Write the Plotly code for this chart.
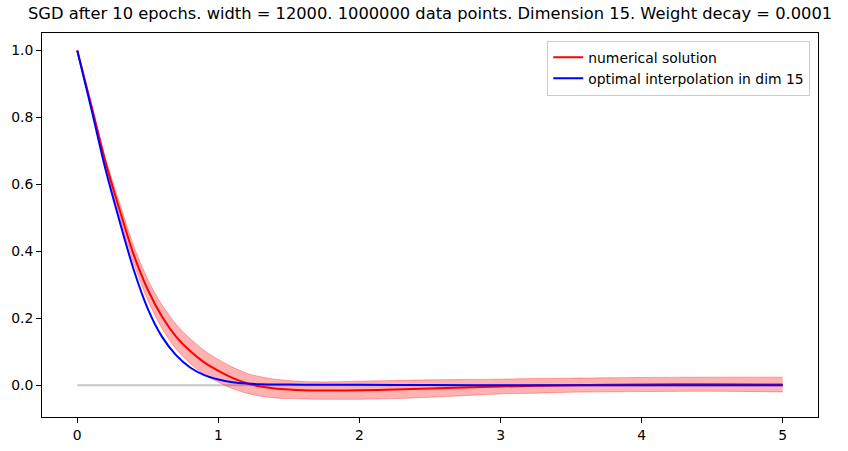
import plotly.graph_objects as go

# --- data ---
x_num = [0.0, 0.1, 0.2, 0.3, 0.4, 0.5, 0.6, 0.7, 0.8, 0.9, 1.0, 1.1, 1.2, 1.3, 1.4,
         1.5, 1.6, 1.7, 1.8, 2.0, 2.25, 2.5, 2.75, 3.0, 3.25, 3.5, 4.0, 4.5, 5.0]
y_num = [1.0, 0.835, 0.667, 0.524, 0.39, 0.285, 0.205, 0.145, 0.102, 0.068, 0.043,
         0.022, 0.006, -0.004, -0.010, -0.013, -0.015, -0.016, -0.016, -0.015,
         -0.013, -0.010, -0.007, -0.004, -0.002, 0.0, 0.002, 0.003, 0.002]
y_upper = [1.0, 0.84, 0.679, 0.544, 0.416, 0.316, 0.24, 0.182, 0.139, 0.104, 0.077,
           0.054, 0.036, 0.025, 0.018, 0.014, 0.011, 0.010, 0.010, 0.012, 0.014,
           0.016, 0.017, 0.018, 0.020, 0.021, 0.023, 0.024, 0.024]
y_lower = [1.0, 0.83, 0.655, 0.504, 0.364, 0.254, 0.17, 0.108, 0.065, 0.032, 0.009,
           -0.010, -0.024, -0.033, -0.038, -0.040, -0.041, -0.042, -0.042, -0.042,
           -0.040, -0.036, -0.031, -0.026, -0.024, -0.021, -0.019, -0.018, -0.020]

x_opt = [0.0, 0.1, 0.2, 0.3, 0.4, 0.5, 0.6, 0.7, 0.8, 0.9, 1.0, 1.1, 1.2, 1.3, 1.5,
         1.7, 2.0, 2.5, 3.0, 4.0, 5.0]
y_opt = [1.0, 0.825, 0.645, 0.49, 0.345, 0.228, 0.145, 0.09, 0.053, 0.03, 0.017,
         0.009, 0.005, 0.003, 0.002, 0.001, 0.001, 0.0005, 0.0, 0.0, 0.0]

x_zero = [0.0, 5.0]
y_zero = [0.0, 0.0]

title = "SGD after 10 epochs. width = 12000. 1000000 data points. Dimension 15. Weight decay = 0.0001"
x_ticks = [0, 1, 2, 3, 4, 5]
y_ticks = [0.0, 0.2, 0.4, 0.6, 0.8, 1.0]

FONT = "DejaVu Sans"

fig = go.Figure()
fig.add_trace(go.Scatter(x=x_zero, y=y_zero, mode="lines",
                         line=dict(color="rgba(160,160,160,0.6)", width=2),
                         showlegend=False, hoverinfo="skip"))
fig.add_trace(go.Scatter(x=x_num, y=y_lower, mode="lines",
                         line=dict(color="rgba(255,0,0,0.3)", width=1, shape="spline", smoothing=0.8),
                         showlegend=False, hoverinfo="skip"))
fig.add_trace(go.Scatter(x=x_num, y=y_upper, mode="lines", fill="tonexty",
                         fillcolor="rgba(255,0,0,0.3)",
                         line=dict(color="rgba(255,0,0,0.3)", width=1, shape="spline", smoothing=0.8),
                         showlegend=False, hoverinfo="skip"))
fig.add_trace(go.Scatter(x=x_num, y=y_num, mode="lines", name="numerical solution",
                         line=dict(color="red", width=2, shape="spline", smoothing=0.8)))
fig.add_trace(go.Scatter(x=x_opt, y=y_opt, mode="lines", name="optimal interpolation in dim 15",
                         line=dict(color="blue", width=2, shape="spline", smoothing=0.8)))

axis_common = dict(showline=True, linecolor="black", linewidth=1, mirror=True,
                   ticks="outside", ticklen=5, tickwidth=1, tickcolor="black",
                   showgrid=False, zeroline=False, automargin=False,
                   tickfont=dict(family=FONT, size=13.9, color="black"))

fig.update_layout(
    width=848, height=451,
    margin=dict(l=42, r=30, t=33, b=34, autoexpand=False),
    paper_bgcolor="white", plot_bgcolor="white",
    font=dict(family=FONT, color="black"),
    xaxis=dict(range=[-0.25, 5.25], tickvals=x_ticks, ticktext=[str(v) for v in x_ticks],
               **axis_common),
    yaxis=dict(range=[-0.095, 1.052], tickvals=y_ticks, ticktext=[f"{v:.1f}" for v in y_ticks],
               **axis_common),
    legend=dict(x=0.99, y=0.98, xanchor="right", yanchor="top", traceorder="normal",
                bgcolor="rgba(255,255,255,0.8)", bordercolor="#cccccc", borderwidth=1,
                font=dict(family=FONT, size=13.9, color="black"),
                tracegroupgap=0, itemwidth=30),
    annotations=[dict(text=title, x=0.5, xref="paper", xanchor="center",
                      y=1 + 20 / 384, yref="paper", yanchor="middle", showarrow=False,
                      font=dict(family=FONT, size=16.3, color="black"))],
)

# remove the default 8px page margin so the figure fills the window exactly
fig.write_html("out.html",
               config={"displayModeBar": False},
               post_script="document.body.style.margin='0';document.body.style.overflow='hidden';")
